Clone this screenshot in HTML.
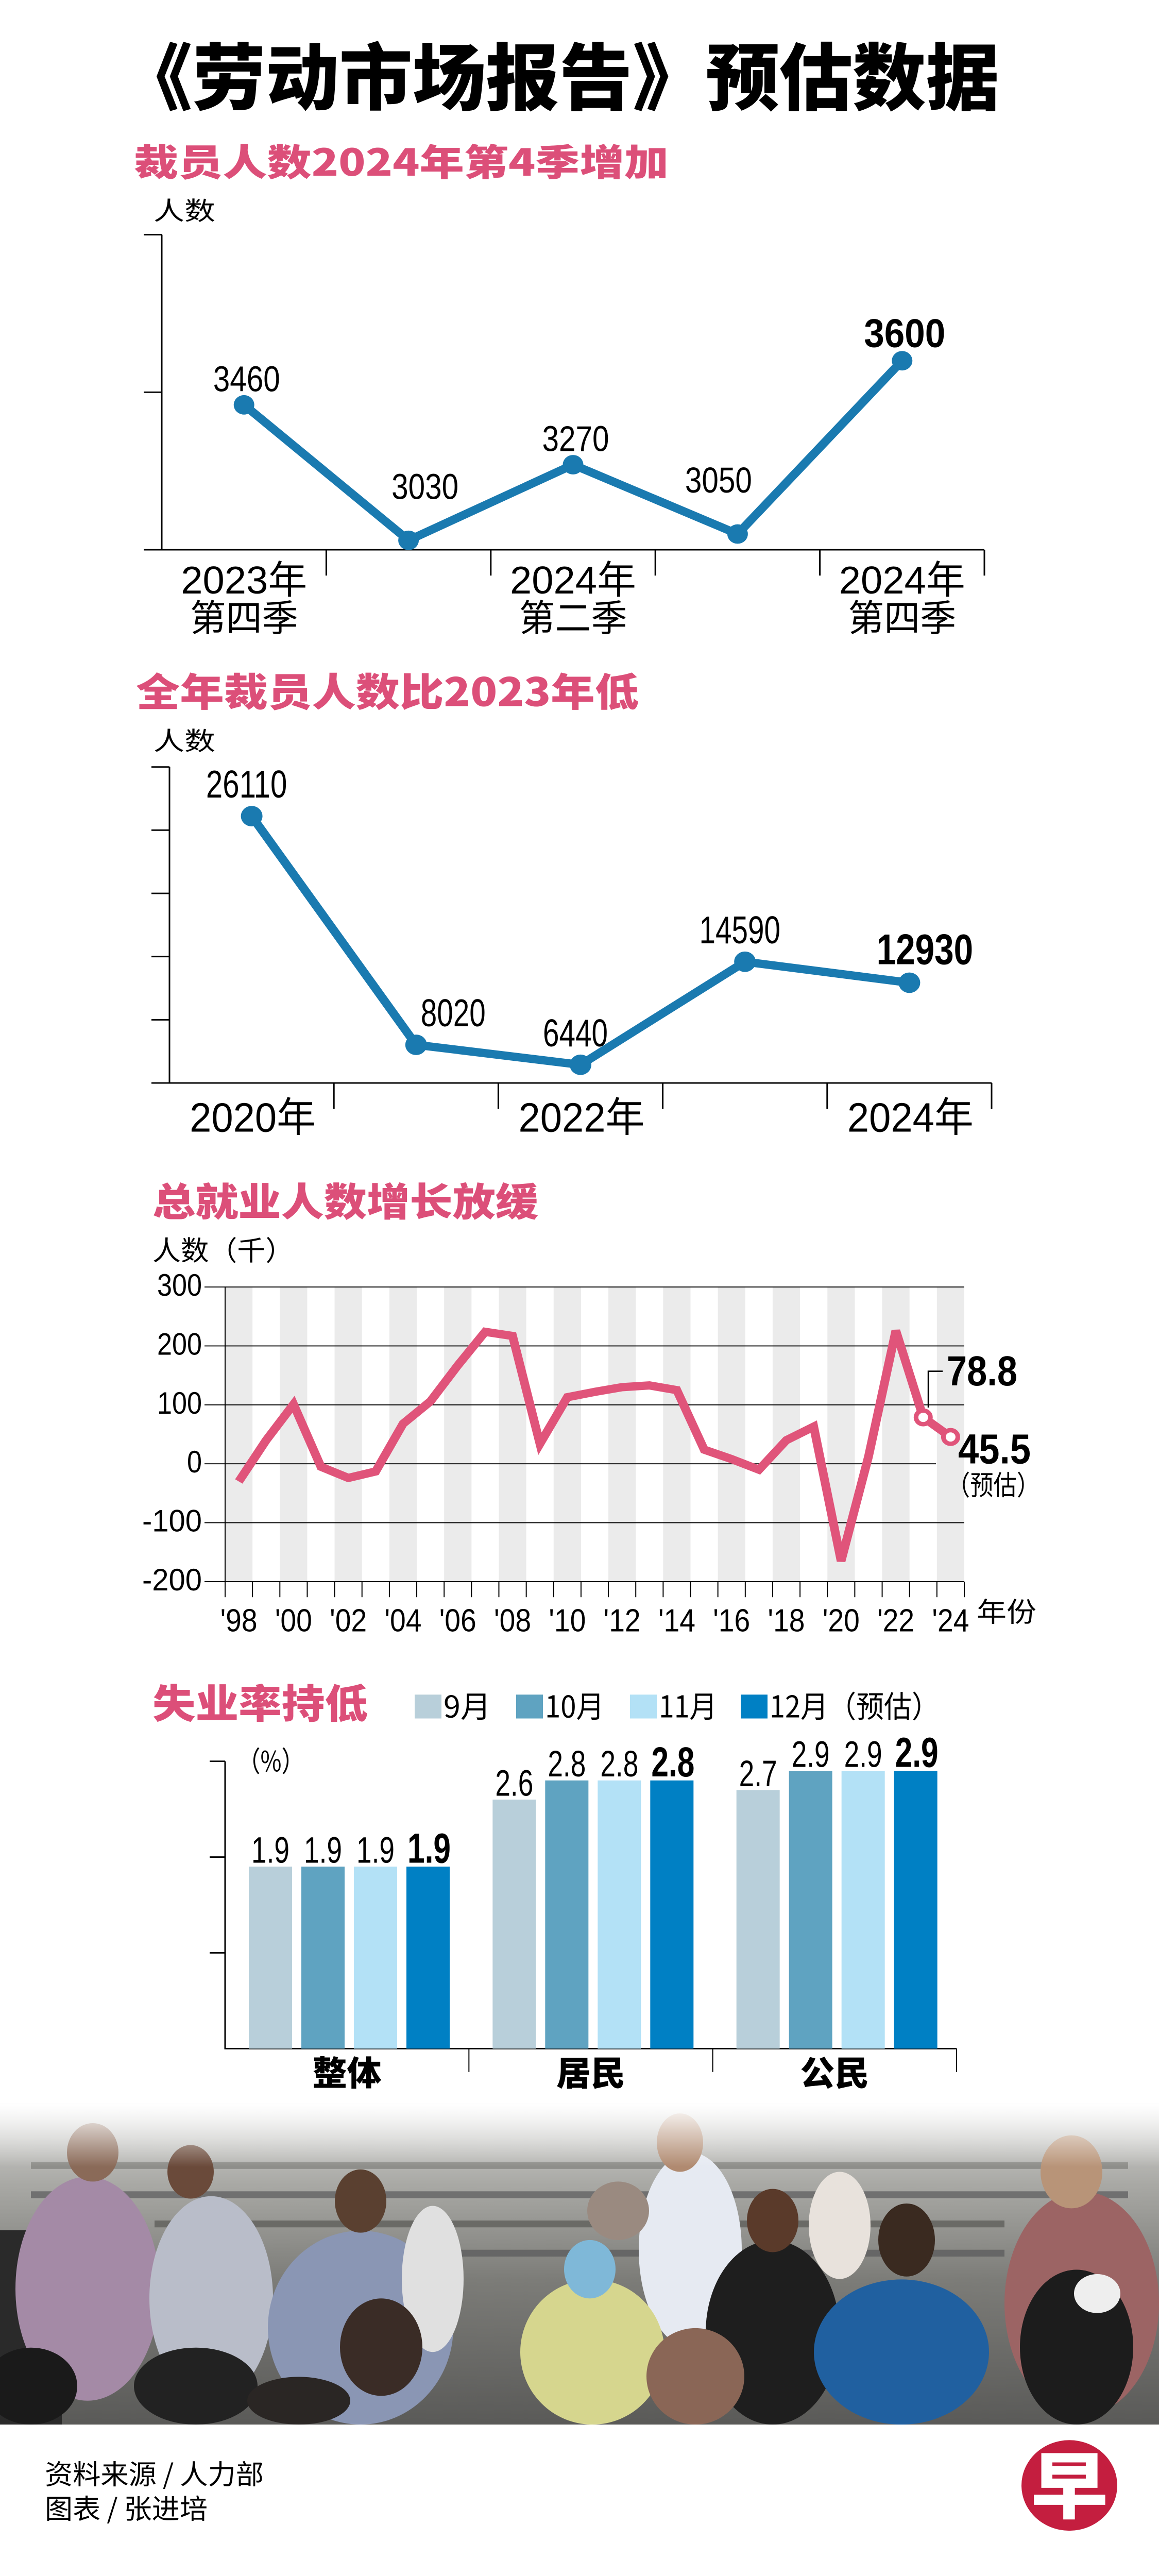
<!DOCTYPE html>
<html><head><meta charset="utf-8">
<style>
html,body{margin:0;padding:0;background:#fff;width:100%;height:100%;overflow:hidden;}
svg{display:block;position:fixed;left:0;top:0;width:100vw;height:100vh;}
text{font-family:"Liberation Sans","Noto Sans CJK SC",sans-serif;}
.cjk{font-family:"Noto Sans CJK SC","WenQuanYi Zen Hei",sans-serif;}
</style></head>
<body>
<svg id="root" xmlns="http://www.w3.org/2000/svg" viewBox="0 0 2250 5290" preserveAspectRatio="none">
<defs>
<linearGradient id="fade" x1="0" y1="0" x2="0" y2="1">
<stop offset="0" stop-color="#fff" stop-opacity="1"/>
<stop offset="1" stop-color="#fff" stop-opacity="0"/>
</linearGradient>
<linearGradient id="photoBg" x1="0" y1="0" x2="0" y2="1">
<stop offset="0" stop-color="#d8d8d6"/>
<stop offset="0.25" stop-color="#a9a9a5"/>
<stop offset="0.55" stop-color="#7c7c78"/>
<stop offset="1" stop-color="#5a5a58"/>
</linearGradient>
</defs>

<text x="231" y="214" font-size="150" font-weight="900" class="cjk" textLength="1709" lengthAdjust="spacingAndGlyphs" fill="#000">《劳动市场报告》预估数据</text>

<g id="c1">
<text x="260" y="361" font-size="76" font-weight="900" class="cjk" fill="#dc4f79" textLength="1038" lengthAdjust="spacingAndGlyphs">裁员人数2024年第4季增加</text>
<text x="298" y="451" font-size="52" class="cjk" fill="#000" textLength="120" lengthAdjust="spacingAndGlyphs">人数</text>
</g>

<g id="c2">
<text x="264" y="1450" font-size="80" font-weight="900" class="cjk" fill="#dc4f79" textLength="976" lengthAdjust="spacingAndGlyphs">全年裁员人数比2023年低</text>
<text x="298" y="1540" font-size="52" class="cjk" fill="#000" textLength="120" lengthAdjust="spacingAndGlyphs">人数</text>
</g>

<g id="c3">
<text x="296" y="2497" font-size="80" font-weight="900" class="cjk" fill="#dc4f79" textLength="749" lengthAdjust="spacingAndGlyphs">总就业人数增长放缓</text>
<text x="296" y="2588" font-size="56" class="cjk" fill="#000" textLength="274" lengthAdjust="spacingAndGlyphs">人数（千）</text>
</g>

<g id="c4">
<text x="296" y="3528" font-size="82" font-weight="900" class="cjk" fill="#dc4f79" textLength="418" lengthAdjust="spacingAndGlyphs">失业率持低</text>
<text x="461" y="3638" font-size="58" class="cjk" fill="#000" textLength="130" lengthAdjust="spacingAndGlyphs">（%）</text>
</g>

<g>
<rect x="0" y="4320" width="2250" height="659" fill="url(#photoBg)"/>
<rect x="60" y="4440" width="2130" height="14" fill="#8e8e8a"/>
<rect x="60" y="4500" width="2130" height="14" fill="#707070"/>
<rect x="300" y="4560" width="1650" height="14" fill="#6a6a66"/>
<rect x="600" y="4620" width="1350" height="14" fill="#666"/>
<rect x="0" y="4580" width="120" height="399" fill="#2a2a2a"/>
<ellipse cx="170" cy="4700" rx="140" ry="230" fill="#a48aa6"/>
<ellipse cx="180" cy="4420" rx="50" ry="60" fill="#8a6a58"/>
<ellipse cx="410" cy="4720" rx="120" ry="210" fill="#b9bdc9"/>
<ellipse cx="370" cy="4460" rx="45" ry="55" fill="#6a4a3a"/>
<ellipse cx="700" cy="4780" rx="180" ry="199" fill="#8a96b4"/>
<ellipse cx="700" cy="4520" rx="50" ry="65" fill="#5a4030"/>
<ellipse cx="840" cy="4680" rx="60" ry="150" fill="#e0e0e0"/>
<ellipse cx="1340" cy="4620" rx="100" ry="200" fill="#e6eaf2"/>
<ellipse cx="1320" cy="4400" rx="45" ry="60" fill="#b08a70"/>
<ellipse cx="1200" cy="4540" rx="60" ry="60" fill="#9a8a80"/>
<ellipse cx="1150" cy="4830" rx="140" ry="149" fill="#d6d68e"/>
<ellipse cx="1145" cy="4660" rx="50" ry="60" fill="#7fb8d8"/>
<ellipse cx="1500" cy="4790" rx="130" ry="189" fill="#1e1e1e"/>
<ellipse cx="1500" cy="4560" rx="50" ry="65" fill="#5a3a2a"/>
<ellipse cx="1630" cy="4570" rx="60" ry="110" fill="#e8e2dc"/>
<ellipse cx="1750" cy="4830" rx="170" ry="149" fill="#2060a0"/>
<ellipse cx="1760" cy="4600" rx="55" ry="75" fill="#3a2a20"/>
<ellipse cx="2100" cy="4730" rx="150" ry="230" fill="#9c6464"/>
<ellipse cx="2080" cy="4460" rx="60" ry="75" fill="#b89478"/>
<ellipse cx="2090" cy="4820" rx="110" ry="159" fill="#1c1c1c"/>
<ellipse cx="2130" cy="4710" rx="45" ry="40" fill="#eee"/>
<ellipse cx="380" cy="4900" rx="120" ry="79" fill="#222"/>
<ellipse cx="580" cy="4930" rx="100" ry="49" fill="#2a2624"/>
<ellipse cx="740" cy="4820" rx="80" ry="100" fill="#3a2c26"/>
<ellipse cx="1350" cy="4880" rx="95" ry="99" fill="#8a6656"/>
<ellipse cx="60" cy="4900" rx="90" ry="79" fill="#1a1a1a"/>
<rect x="0" y="4320" width="2250" height="130" fill="url(#fade)"/>
<rect x="0" y="4979" width="2250" height="311" fill="#fff"/>
</g>

<text x="87" y="5101" font-size="56" class="cjk" fill="#000" textLength="425" lengthAdjust="spacingAndGlyphs">资料来源 / 人力部</text>
<text x="87" y="5172" font-size="56" class="cjk" fill="#000" textLength="316" lengthAdjust="spacingAndGlyphs">图表 / 张进培</text>
<g>
<ellipse cx="2076" cy="5104" rx="93" ry="93" fill="#c41e3f"/>
<text x="2076" y="5160" font-size="150" font-weight="900" class="cjk" fill="#fff" text-anchor="middle">早</text>
</g>
</svg>

<script>
var q_categories = ['2023Q4','2024Q1','2024Q2','2024Q3','2024Q4'];
var q_values = [3460, 3030, 3270, 3050, 3600];
var q_ticks = [3000, 3500, 4000];

var y_categories = ['2020','2021','2022','2023','2024'];
var y_values = [26110, 8020, 6440, 14590, 12930];
var y_ticks = [5000, 10000, 15000, 20000, 25000, 30000];

var e_years = [1998,1999,2000,2001,2002,2003,2004,2005,2006,2007,2008,2009,2010,2011,2012,2013,2014,2015,2016,2017,2018,2019,2020,2021,2022,2023,2024];
var e_values = [-30,40,101,-5,-24,-13,68,106,167,224,217,34,113,122,130,133,125,24,8,-10,40,63,-165,12,226,78.8,45.5];
var e_ticks = [300,200,100,0,-100,-200];
var e_tickLabels = ['300','200','100','0','-100','-200'];

var u_groups = ['整体','居民','公民'];
var u_sep = [1.9, 2.6, 2.7];
var u_oct = [1.9, 2.8, 2.9];
var u_nov = [1.9, 2.8, 2.9];
var u_dec = [1.9, 2.8, 2.9];
var u_series = ['9月','10月','11月','12月（预估）'];

var NS = 'http://www.w3.org/2000/svg';
function mk(parent, tag, attrs){
  var el = document.createElementNS(NS, tag);
  for (var k in attrs) el.setAttribute(k, attrs[k]);
  parent.appendChild(el);
  return el;
}
function tx(parent, s, x, y, fs, w, bold, anchor){
  var el = mk(parent, 'text', {x:x, y:y, 'font-size':fs, fill:'#000'});
  if (bold) el.setAttribute('font-weight','bold');
  if (anchor) el.setAttribute('text-anchor', anchor);
  if (w) { el.setAttribute('textLength', w); el.setAttribute('lengthAdjust','spacingAndGlyphs'); }
  el.textContent = s;
  return el;
}

(function(){
  var g = document.getElementById('c1');
  var x0 = 314, x1 = 1911, base = 1129, n = q_categories.length;
  var col = (x1 - x0) / n;
  function X(i){ return x0 + (i + 0.5) * col; }
  function Y(v){ return base - (v - 3000) * 0.647; }
  var ax = mk(g,'path',{d:'M'+x0+' '+Y(4000)+' V'+base+' H'+x1, stroke:'#000','stroke-width':3, fill:'none'});
  
  
  q_ticks.forEach(function(t){
    var tk = mk(g,'line',{x1:x0-35,x2:x0,y1:Y(t),y2:Y(t),stroke:'#000','stroke-width':3});
    
    
  });
  for (var i=1;i<=n;i++){
    var xt = mk(g,'line',{x1:x0+i*col,x2:x0+i*col,y1:base,y2:base+53,stroke:'#000','stroke-width':3});
    
    
  }
  var d = q_values.map(function(v,i){return (i?'L':'M')+X(i)+' '+Y(v);}).join(' ');
  var ln = mk(g,'path',{d:d,stroke:'#1a7ab0','stroke-width':17,fill:'none','stroke-linejoin':'round'});
  
  
  q_values.forEach(function(v,i){
    var c = mk(g,'circle',{cx:X(i),cy:Y(v),r:20,fill:'#1a7ab0'});
    
    
    var valley = i>0 && i<n-1 && v<q_values[i-1] && v<q_values[i+1];
    var dx = valley ? (i<2?32:-37) : 5;
    var dy = valley ? -85 : -28;
    var last = i===n-1;
    var t = tx(g, String(v), X(i)+dx, Y(v)+dy, last?82:74, last?158:130, last, 'middle');
    
    
  });
  var labs = [[0,'2023年','第四季'],[2,'2024年','第二季'],[4,'2024年','第四季']];
  labs.forEach(function(l){
    var a = tx(g, l[1], X(l[0]), 1219, 80, 245, false, 'middle');
    
    
    var b = tx(g, l[2], X(l[0]), 1296, 76, 210, false, 'middle');
    
    
  });
})();

(function(){
  var g = document.getElementById('c2');
  var x0 = 329, x1 = 1925, base = 2224, n = y_categories.length;
  var col = (x1 - x0) / n;
  function X(i){ return x0 + (i + 0.5) * col; }
  function Y(v){ return base - (v - 5000) * 0.02596; }
  var ax = mk(g,'path',{d:'M'+x0+' '+Y(30000)+' V'+base+' H'+x1, stroke:'#000','stroke-width':3, fill:'none'});
  
  
  y_ticks.forEach(function(t){
    var tk = mk(g,'line',{x1:x0-35,x2:x0,y1:Y(t),y2:Y(t),stroke:'#000','stroke-width':3});
    
    
  });
  for (var i=1;i<=n;i++){
    var xt = mk(g,'line',{x1:x0+i*col,x2:x0+i*col,y1:base,y2:base+53,stroke:'#000','stroke-width':3});
    
    
  }
  var d = y_values.map(function(v,i){return (i?'L':'M')+X(i)+' '+Y(v);}).join(' ');
  var ln = mk(g,'path',{d:d,stroke:'#1a7ab0','stroke-width':17,fill:'none','stroke-linejoin':'round'});
  
  
  y_values.forEach(function(v,i){
    var c = mk(g,'circle',{cx:X(i),cy:Y(v),r:21,fill:'#1a7ab0'});
    
    
    var dx = (i>0 && y_values[i-1] > v*2) ? 72 : (i===n-1 ? 30 : -10);
    var last = i===n-1;
    var s = String(v);
    var t = tx(g, s, X(i)+dx, Y(v)-38, last?88:80, s.length*(last?37.5:31.5), last, 'middle');
    
    
  });
  [0,2,4].forEach(function(i){
    var a = tx(g, y_categories[i]+'年', X(i)+2, 2324, 84, 245, false, 'middle');
    
    
  });
})();

(function(){
  var g = document.getElementById('c3');
  var x0 = 437, x1 = 1872, n = e_years.length;
  var col = (x1 - x0) / n;
  function X(i){ return x0 + (i + 0.5) * col; }
  function Y(v){ return 3006 - v * 1.21; }
  for (var i=0;i<n;i+=2){
    var s = mk(g,'rect',{x:x0+i*col,y:Y(300),width:col,height:Y(-200)-Y(300),fill:'#ebebeb'});
    
    
  }
  e_ticks.forEach(function(t,k){
    var xe = t===0 ? 1817 : x1;
    var gl = mk(g,'line',{x1:397,x2:xe,y1:Y(t),y2:Y(t),stroke:'#000','stroke-width':2});
    
    
    var lab = e_tickLabels[k];
    var tl = tx(g, lab, 392, Y(t)+18, 64, lab.length*29, false, 'end');
    
    
  });
  var ax = mk(g,'line',{x1:x0,x2:x0,y1:Y(300),y2:Y(-200)+30,stroke:'#000','stroke-width':2});
  
  
  for (var j=0;j<=n;j++){
    var xt = mk(g,'line',{x1:x0+j*col,x2:x0+j*col,y1:Y(-200),y2:Y(-200)+32,stroke:'#000','stroke-width':2});
    
    
  }
  for (var k=0;k<n;k+=2){
    var yl = "'" + String(e_years[k]).slice(2);
    var xl = tx(g, yl, X(k), 3350, 66, 72, false, 'middle');
    
    
  }
  var yr = tx(g, '年份', 1896, 3330, 56, 116);
  yr.setAttribute('class','cjk');
  
  
  var d = e_values.map(function(v,i){return (i?'L':'M')+X(i)+' '+Y(v);}).join(' ');
  var ln = mk(g,'path',{d:d,stroke:'#e0547a','stroke-width':17,fill:'none','stroke-linejoin':'miter','stroke-miterlimit':3});
  
  
  [n-2,n-1].forEach(function(i){
    var c = mk(g,'circle',{cx:X(i),cy:Y(e_values[i]),r:14,fill:'#fff',stroke:'#e0547a','stroke-width':9});
    
    
  });
  var i23 = n-2, i24 = n-1;
  var br = mk(g,'path',{d:'M'+(X(i23)+10)+' '+(Y(e_values[i23])-20)+' V2816 H1830',stroke:'#000','stroke-width':3,fill:'none'});
  
  
  var a = tx(g, String(e_values[i23]), 1838, 2845, 86, 137, true);
  
  
  var b = tx(g, String(e_values[i24]), 1860, 3005, 86, 141, true);
  
  
  var c2 = tx(g, '（预估）', 1838, 3070, 56, 181);
  c2.setAttribute('class','cjk');
  
  
})();

(function(){
  var g = document.getElementById('c4');
  var x0 = 437, x1 = 1857, base = 4207;
  var colors = ['#b8cfda','#5fa3c1','#b3e1f6','#0080c4'];
  var series = [u_sep, u_oct, u_nov, u_dec];
  var gw = (x1 - x0) / u_groups.length;
  function Y(v){ return base - v * 196.7; }
  var lx = [805, 1002, 1223, 1438], lw = [92, 115, 113, 330];
  u_series.forEach(function(s,i){
    var sw = mk(g,'rect',{x:lx[i],y:3480,width:52,height:49,fill:colors[i]});
    
    
    var t = tx(g, s, lx[i]+56, 3527, 62, lw[i]);
    t.setAttribute('class','cjk');
    
    
  });
  var ax = mk(g,'path',{d:'M'+x0+' '+Y(3)+' V'+base+' H'+x1, stroke:'#000','stroke-width':3, fill:'none'});
  
  
  [1,2,3].forEach(function(t){
    var tk = mk(g,'line',{x1:x0-30,x2:x0,y1:Y(t),y2:Y(t),stroke:'#000','stroke-width':3});
    
    
  });
  u_groups.forEach(function(name,gi){
    var gx = x0 + gi*gw;
    var dv = mk(g,'line',{x1:gx+gw,x2:gx+gw,y1:base,y2:base+48,stroke:'#000','stroke-width':2});
    
    
    series.forEach(function(arr,si){
      var v = arr[gi];
      var bx = gx + 46 + si*102;
      var r = mk(g,'rect',{x:bx,y:Y(v),width:84,height:base-Y(v),fill:colors[si]});
      
      
      var last = si===3;
      var t = tx(g, v.toFixed(1), bx+42+(last?2:0), Y(v)-8, last?86:76, last?84:74, last, 'middle');
      
      
    });
    var cl = tx(g, name, gx+gw/2, 4282, 70, 134, true, 'middle');
    cl.setAttribute('class','cjk');
    cl.setAttribute('font-weight','900');
    
    
  });
})();
</script>
</body></html>
